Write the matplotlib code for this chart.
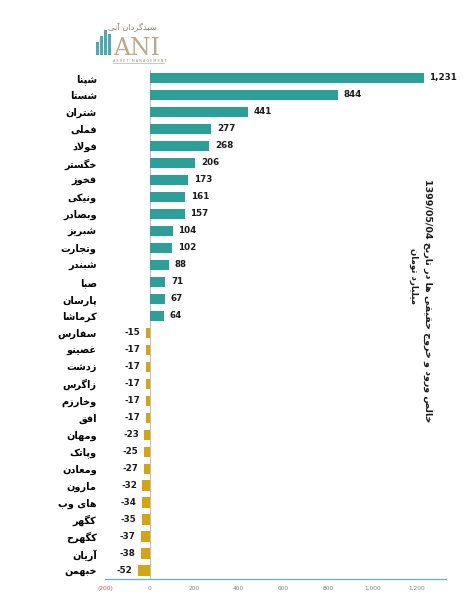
import matplotlib
matplotlib.use("Agg")
import matplotlib.pyplot as plt
from matplotlib.patches import Rectangle
from matplotlib.ticker import FuncFormatter

# ---------------- data ----------------
symbols = ["شپنا", "شستا", "شتران", "فملی", "فولاد", "خگستر", "فخوز", "ونیکی",
           "وبصادر", "شبریز", "وتجارت", "شبندر", "صبا", "پارسان", "کرماشا",
           "سفارس", "غصینو", "زدشت", "زاگرس", "وخارزم", "افق", "ومهان", "وپاتک",
           "ومعادن", "مارون", "های وب", "کگهر", "کگهرح", "آریان", "خبهمن"]
values = [1231, 844, 441, 277, 268, 206, 173, 161, 157, 104, 102, 88, 71, 67, 64,
          -15, -17, -17, -17, -17, -17, -23, -25, -27, -32, -34, -35, -37, -38, -52]
x_ticks = [-200, 0, 200, 400, 600, 800, 1000, 1200]
title_text = "خالص ورود و خروج حقیقی ها در تاریخ"
title_date = "1399/05/04"
unit_text = "میلیارد تومان"

# ---------------- minimal Persian shaping ----------------
FORMS = {
    "ا": ("\uFE8D", "\uFE8E", None, None),
    "آ": ("\uFE81", "\uFE82", None, None),
    "ب": ("\uFE8F", "\uFE90", "\uFE91", "\uFE92"),
    "پ": ("\uFB56", "\uFB57", "\uFB58", "\uFB59"),
    "ت": ("\uFE95", "\uFE96", "\uFE97", "\uFE98"),
    "ج": ("\uFE9D", "\uFE9E", "\uFE9F", "\uFEA0"),
    "ح": ("\uFEA1", "\uFEA2", "\uFEA3", "\uFEA4"),
    "خ": ("\uFEA5", "\uFEA6", "\uFEA7", "\uFEA8"),
    "د": ("\uFEA9", "\uFEAA", None, None),
    "ر": ("\uFEAD", "\uFEAE", None, None),
    "ز": ("\uFEAF", "\uFEB0", None, None),
    "س": ("\uFEB1", "\uFEB2", "\uFEB3", "\uFEB4"),
    "ش": ("\uFEB5", "\uFEB6", "\uFEB7", "\uFEB8"),
    "ص": ("\uFEB9", "\uFEBA", "\uFEBB", "\uFEBC"),
    "ع": ("\uFEC9", "\uFECA", "\uFECB", "\uFECC"),
    "غ": ("\uFECD", "\uFECE", "\uFECF", "\uFED0"),
    "ف": ("\uFED1", "\uFED2", "\uFED3", "\uFED4"),
    "ق": ("\uFED5", "\uFED6", "\uFED7", "\uFED8"),
    "ک": ("\uFB8E", "\uFB8F", "\uFB90", "\uFB91"),
    "گ": ("\uFB92", "\uFB93", "\uFB94", "\uFB95"),
    "ل": ("\uFEDD", "\uFEDE", "\uFEDF", "\uFEE0"),
    "م": ("\uFEE1", "\uFEE2", "\uFEE3", "\uFEE4"),
    "ن": ("\uFEE5", "\uFEE6", "\uFEE7", "\uFEE8"),
    "ه": ("\uFEE9", "\uFEEA", "\uFEEB", "\uFEEC"),
    "و": ("\uFEED", "\uFEEE", None, None),
    "ی": ("\uFBFC", "\uFBFD", "\uFBFE", "\uFBFF"),
}


def joins_next(ch):
    return ch in FORMS and FORMS[ch][2] is not None


def shape(text):
    chars = list(text)
    out = []
    i = 0
    n = len(chars)
    while i < n:
        c = chars[i]
        if c not in FORMS:
            out.append(c)
            i += 1
            continue
        prev = chars[i - 1] if i > 0 else None
        joined_prev = prev is not None and joins_next(prev)
        if c == "ل" and i + 1 < n and chars[i + 1] in ("ا", "آ"):
            if chars[i + 1] == "ا":
                out.append("\uFEFC" if joined_prev else "\uFEFB")
            else:
                out.append("\uFEF6" if joined_prev else "\uFEF5")
            i += 2
            continue
        nxt = chars[i + 1] if i + 1 < n else None
        joined_next = joins_next(c) and nxt is not None and nxt in FORMS
        iso, fin, ini, med = FORMS[c]
        if joined_prev and joined_next:
            out.append(med)
        elif joined_prev:
            out.append(fin)
        elif joined_next:
            out.append(ini)
        else:
            out.append(iso)
        i += 1
    return "".join(out)[::-1]


# ---------------- figure ----------------
W, H = 464, 602
fig = plt.figure(figsize=(W / 100, H / 100), dpi=100)
fig.patch.set_facecolor("white")

teal = "#2E9E98"
gold = "#D4A512"

x0_px, x1_px = 105, 446
y0_px, y1_px = 69.5, 579
ax = fig.add_axes([x0_px / W, 1 - y1_px / H, (x1_px - x0_px) / W, (y1_px - y0_px) / H])

idx = list(range(len(values)))
colors = [teal if v >= 0 else gold for v in values]
ax.barh(idx, values, height=0.6, color=colors, zorder=2)
ax.set_xlim(-200, 1330)
ax.set_ylim(len(values) - 0.5, -0.5)

ax.axvline(0, color="#BFBFBF", lw=0.8, zorder=1)
for s in ["top", "right", "left"]:
    ax.spines[s].set_visible(False)
ax.spines["bottom"].set_color("#6FA8C8")
ax.spines["bottom"].set_linewidth(0.9)

ax.set_xticks(x_ticks)


def fmt(v, pos):
    if v < 0:
        return "({:,.0f})".format(-v)
    return "{:,.0f}".format(v)


ax.xaxis.set_major_formatter(FuncFormatter(fmt))
ax.tick_params(axis="x", length=0, labelsize=4.2, labelcolor="#808080", pad=5)
for lab, v in zip(ax.get_xticklabels(), x_ticks):
    if v < 0:
        lab.set_color("#E05050")

ax.set_yticks(idx)
ax.set_yticklabels([shape(s) for s in symbols], fontsize=7, fontweight="bold",
                   family="DejaVu Sans")
ax.tick_params(axis="y", length=0, pad=6)

for i, v in enumerate(values):
    if v >= 0:
        ax.annotate("{:,}".format(v), (v, i), xytext=(4, 0), textcoords="offset points",
                    ha="left", va="center", fontsize=6.3, fontweight="bold", color="#1a1a1a")
    else:
        ax.annotate("{:,}".format(v), (v, i), xytext=(-4, 0), textcoords="offset points",
                    ha="right", va="center", fontsize=6.3, fontweight="bold", color="#1a1a1a")

# rotated title on the right
fig.text(428 / W, 1 - 301 / H, title_date + " " + shape(title_text), rotation=270,
         ha="center", va="center", fontsize=6.8, fontweight="bold", color="#1a1a1a",
         family="DejaVu Sans")
fig.text(414 / W, 1 - 276 / H, shape(unit_text), rotation=270,
         ha="center", va="center", fontsize=6.2, fontweight="bold", color="#1a1a1a",
         family="DejaVu Sans")

# ---------------- logo ----------------
lax = fig.add_axes([0, 0, 1, 1], facecolor="none")
lax.set_xlim(0, W)
lax.set_ylim(H, 0)
lax.axis("off")
for bx, top in [(96, 42), (100, 36), (104, 30), (108, 34)]:
    lax.add_patch(Rectangle((bx, top), 3, 55 - top, color="#4BA9B4", lw=0))
lax.text(113, 55, "ANI", fontsize=17, family="DejaVu Serif", color="#B9A98A",
         ha="left", va="baseline")
lax.text(113, 60.5, "A S S E T   M A N A G E M E N T", fontsize=2.4, color="#8A8A8A",
         ha="left", va="center")
lax.plot([113, 164], [63, 63], color="#C9C0B0", lw=0.6)
lax.text(157, 27, shape("سبدگردان آنی"), fontsize=6, color="#8C8070", ha="right",
         va="center", family="DejaVu Sans")

fig.savefig("out.png", dpi=100)
